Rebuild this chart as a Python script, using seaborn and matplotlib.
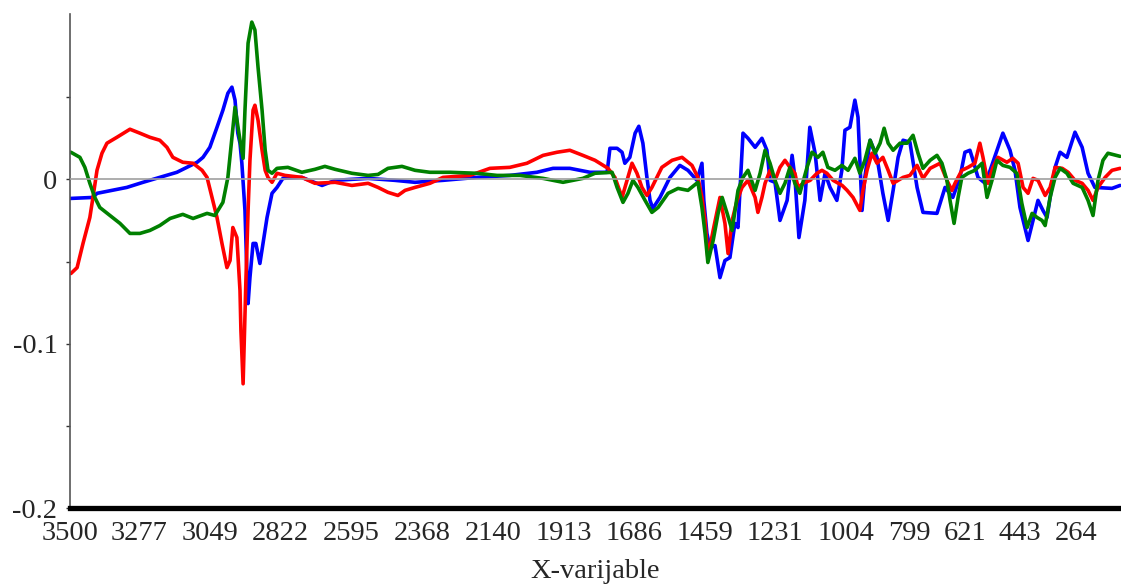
import matplotlib
matplotlib.use("Agg")
import matplotlib.pyplot as plt
import numpy as np
import pandas as pd
import seaborn as sns

# wavenumber (x) and loading values, one series per colour
blue_x = [3497, 3426, 3413, 3317, 3265, 3211, 3156, 3124, 3091, 3072, 3050, 3027, 3008, 2992,
          2979, 2969, 2960, 2953, 2947, 2937, 2931, 2927, 2921, 2911, 2902, 2889, 2879, 2866,
          2850, 2834, 2815, 2754, 2689, 2647, 2541, 2455, 2390, 2300, 2191, 2085, 1998, 1946,
          1892, 1827, 1772, 1763, 1740, 1724, 1715, 1699, 1682, 1670, 1657, 1644, 1634, 1625,
          1602, 1570, 1538, 1512, 1483, 1467, 1461, 1451, 1441, 1425, 1409, 1393, 1377, 1361,
          1351, 1335, 1319, 1296, 1274, 1258, 1248, 1232, 1216, 1193, 1177, 1168, 1155, 1136,
          1120, 1103, 1087, 1071, 1055, 1033, 1017, 1007, 991, 975, 965, 952, 943, 926, 904,
          885, 868, 852, 836, 820, 798, 775, 756, 711, 685, 660, 637, 621, 605, 595, 579, 556,
          540, 518, 499, 476, 460, 444, 428, 418, 402, 386, 370, 357, 347, 331, 315, 293, 267,
          244, 225, 203, 148, 122]
blue_y = [-0.0116, -0.0110, -0.0085, -0.0049, -0.0018, 0.0012, 0.0043, 0.0073, 0.0104, 0.0134,
          0.0195, 0.0317, 0.0421, 0.0524, 0.0561, 0.0482, 0.0281, 0.0220, 0.0098, -0.0189,
          -0.0555, -0.0756, -0.0598, -0.0390, -0.0390, -0.0512, -0.0390, -0.0232, -0.0085,
          -0.0049, 0.0006, 0.0012, -0.0037, -0.0006, 0.0006, -0.0006, -0.0018, -0.0006, 0.0012,
          0.0024, 0.0043, 0.0067, 0.0067, 0.0043, 0.0043, 0.0189, 0.0189, 0.0165, 0.0098,
          0.0134, 0.0281, 0.0323, 0.0220, 0.0012, -0.0128, -0.0177, -0.0110, 0.0012, 0.0085,
          0.0055, -0.0006, 0.0098, -0.0128, -0.0329, -0.0415, -0.0403, -0.0598, -0.0494,
          -0.0476, -0.0268, -0.0293, 0.0281, 0.0250, 0.0195, 0.0250, 0.0177, -0.0006, -0.0018,
          -0.0250, -0.0128, 0.0146, 0.0012, -0.0354, -0.0128, 0.0317, 0.0159, -0.0128, 0.0037,
          -0.0049, -0.0128, 0.0055, 0.0299, 0.0317, 0.0482, 0.0378, -0.0189, 0.0012, 0.0238,
          0.0134, -0.0085, -0.0250, -0.0067, 0.0134, 0.0238, 0.0226, -0.0049, -0.0201, -0.0207,
          -0.0049, -0.0110, 0.0012, 0.0165, 0.0177, 0.0116, 0.0012, -0.0024, 0.0055, 0.0177,
          0.0281, 0.0177, 0.0055, -0.0171, -0.0293, -0.0372, -0.0250, -0.0128, -0.0189, -0.0232,
          -0.0110, 0.0073, 0.0165, 0.0134, 0.0287, 0.0195, 0.0037, -0.0049, -0.0055, -0.0037]

red_x = [3497, 3477, 3458, 3436, 3426, 3413, 3397, 3381, 3349, 3307, 3275, 3243, 3211, 3188,
         3169, 3137, 3104, 3075, 3059, 3043, 3027, 3011, 2995, 2985, 2976, 2963, 2953, 2950,
         2943, 2934, 2927, 2921, 2911, 2905, 2895, 2882, 2872, 2863, 2850, 2834, 2808, 2754,
         2712, 2647, 2593, 2541, 2509, 2477, 2445, 2422, 2390, 2342, 2300, 2213, 2149, 2085,
         2030, 1978, 1933, 1892, 1850, 1811, 1769, 1747, 1724, 1708, 1692, 1676, 1660, 1644,
         1628, 1596, 1563, 1531, 1499, 1480, 1467, 1457, 1448, 1431, 1409, 1393, 1383, 1370,
         1354, 1338, 1319, 1296, 1287, 1274, 1264, 1248, 1232, 1216, 1200, 1184, 1168, 1158,
         1142, 1119, 1097, 1081, 1065, 1045, 1016, 1000, 981, 959, 949, 936, 920, 904, 885,
         868, 852, 836, 820, 798, 775, 756, 733, 701, 679, 663, 653, 631, 611, 589, 573, 563,
         547, 531, 515, 486, 467, 450, 434, 418, 402, 386, 363, 347, 331, 308, 289, 267, 244,
         225, 209, 193, 170, 148, 122]
red_y = [-0.0573, -0.0537, -0.0390, -0.0232, -0.0110, 0.0055, 0.0159, 0.0220, 0.0256, 0.0305,
         0.0281, 0.0256, 0.0238, 0.0195, 0.0134, 0.0104, 0.0098, 0.0055, 0.0012, -0.0110,
         -0.0232, -0.0390, -0.0537, -0.0494, -0.0293, -0.0354, -0.0677, -0.0921, -0.1244,
         -0.0616, -0.0189, 0.0116, 0.0421, 0.0451, 0.0360, 0.0177, 0.0055, 0.0012, -0.0018,
         0.0037, 0.0024, 0.0012, -0.0024, -0.0018, -0.0037, -0.0024, -0.0049, -0.0079,
         -0.0098, -0.0067, -0.0049, -0.0024, 0.0012, 0.0024, 0.0067, 0.0073, 0.0098, 0.0146,
         0.0165, 0.0177, 0.0146, 0.0116, 0.0067, 0.0012, -0.0110, -0.0006, 0.0098, 0.0037,
         -0.0049, -0.0098, -0.0049, 0.0073, 0.0116, 0.0134, 0.0085, 0.0012, -0.0110, -0.0250,
         -0.0476, -0.0311, -0.0110, -0.0268, -0.0451, -0.0250, -0.0128, -0.0049, -0.0006,
         -0.0110, -0.0201, -0.0110, -0.0024, 0.0055, -0.0006, 0.0073, 0.0116, 0.0073, 0.0037,
         -0.0049, -0.0024, -0.0006, 0.0037, 0.0055, 0.0037, -0.0006, -0.0037, -0.0067, -0.0110,
         -0.0189, -0.0067, 0.0055, 0.0159, 0.0098, 0.0134, 0.0055, -0.0024, -0.0006, 0.0012,
         0.0024, 0.0085, 0.0006, 0.0067, 0.0098, -0.0006, -0.0067, -0.0024, 0.0055, 0.0073,
         0.0098, 0.0220, 0.0134, -0.0024, 0.0073, 0.0134, 0.0104, 0.0128, 0.0098, -0.0049,
         -0.0085, 0.0006, -0.0006, -0.0098, -0.0049, 0.0073, 0.0067, 0.0043, -0.0006, -0.0024,
         -0.0067, -0.0128, -0.0049, 0.0012, 0.0055, 0.0067]

green_x = [3497, 3468, 3452, 3436, 3420, 3404, 3371, 3339, 3307, 3275, 3243, 3211, 3178, 3137,
           3104, 3059, 3034, 3008, 2992, 2979, 2969, 2953, 2943, 2937, 2927, 2915, 2905, 2895,
           2882, 2872, 2863, 2850, 2834, 2799, 2754, 2712, 2680, 2647, 2593, 2541, 2509, 2477,
           2432, 2390, 2342, 2277, 2191, 2126, 2052, 1978, 1914, 1850, 1811, 1756, 1740, 1721,
           1705, 1689, 1673, 1650, 1628, 1608, 1576, 1544, 1512, 1480, 1467, 1457, 1448, 1431,
           1415, 1402, 1386, 1370, 1351, 1335, 1319, 1296, 1280, 1264, 1248, 1232, 1216, 1200,
           1184, 1168, 1152, 1129, 1113, 1094, 1078, 1062, 1039, 1017, 997, 975, 959, 943, 926,
           910, 894, 881, 868, 852, 830, 807, 788, 772, 756, 733, 711, 695, 679, 669, 656, 643,
           631, 611, 589, 566, 550, 534, 518, 499, 476, 454, 438, 421, 405, 389, 373, 363, 347,
           331, 315, 293, 273, 244, 225, 209, 193, 177, 161, 122]
green_y = [0.0165, 0.0134, 0.0073, -0.0024, -0.0110, -0.0171, -0.0220, -0.0268, -0.0329,
           -0.0329, -0.0311, -0.0281, -0.0238, -0.0213, -0.0238, -0.0207, -0.0220, -0.0140,
           0.0012, 0.0256, 0.0439, 0.0238, 0.0128, 0.0421, 0.0829, 0.0957, 0.0909, 0.0683,
           0.0421, 0.0177, 0.0055, 0.0037, 0.0067, 0.0073, 0.0043, 0.0061, 0.0079, 0.0061,
           0.0037, 0.0024, 0.0030, 0.0067, 0.0079, 0.0055, 0.0043, 0.0043, 0.0037, 0.0024,
           0.0024, 0.0006, -0.0018, 0.0006, 0.0037, 0.0043, -0.0049, -0.0140, -0.0085, -0.0006,
           -0.0049, -0.0128, -0.0201, -0.0171, -0.0085, -0.0055, -0.0067, -0.0018, -0.0171,
           -0.0329, -0.0506, -0.0372, -0.0207, -0.0110, -0.0207, -0.0311, -0.0067, 0.0012,
           0.0055, -0.0067, 0.0037, 0.0177, 0.0098, -0.0006, -0.0085, -0.0024, 0.0073, -0.0024,
           -0.0085, 0.0073, 0.0165, 0.0134, 0.0165, 0.0073, 0.0055, 0.0085, 0.0055, 0.0128,
           0.0037, 0.0116, 0.0238, 0.0159, 0.0220, 0.0311, 0.0220, 0.0177, 0.0220, 0.0220,
           0.0268, 0.0159, 0.0067, 0.0116, 0.0146, 0.0098, -0.0006, -0.0128, -0.0268, -0.0110,
           0.0012, 0.0037, 0.0055, 0.0098, -0.0110, -0.0006, 0.0116, 0.0085, 0.0073, 0.0037,
           -0.0146, -0.0293, -0.0207, -0.0232, -0.0250, -0.0281, -0.0110, 0.0012, 0.0067,
           0.0037, -0.0024, -0.0049, -0.0128, -0.0220, -0.0006, 0.0116, 0.0159, 0.0140]

x_ticks = [3500, 3277, 3049, 2822, 2595, 2368, 2140, 1913, 1686, 1459, 1231, 1004, 799, 621, 443, 264]
y_ticks = [-0.2, -0.1, 0.0]
y_tick_labels = ["-0.2", "-0.1", "0"]

df = pd.concat([
    pd.DataFrame({"x": blue_x, "y": blue_y, "series": "blue"}),
    pd.DataFrame({"x": red_x, "y": red_y, "series": "red"}),
    pd.DataFrame({"x": green_x, "y": green_y, "series": "green"}),
], ignore_index=True)

sns.set_style("white")
plt.rcParams["font.family"] = ["Liberation Serif", "DejaVu Serif"]
plt.rcParams["axes.unicode_minus"] = False

fig = plt.figure(figsize=(11.21, 5.85), dpi=100)
ax = fig.add_axes([0.0624, 0.1316, 0.9376, 0.8444])

sns.lineplot(data=df, x="x", y="y", hue="series", estimator=None, sort=False,
             palette={"blue": "#0000ff", "red": "#ff0000", "green": "#008000"},
             hue_order=["blue", "red", "green"], lw=2.6, legend=False, ax=ax)
ax.axhline(0, color="#a0a0a0", lw=1.2, zorder=5)

ax.set_xlim(3500, 119)
ax.set_ylim(-0.2, 0.1006)
ax.set_xticks(x_ticks)
ax.set_xticklabels([str(t) for t in x_ticks])
ax.set_yticks(y_ticks)
ax.set_yticklabels(y_tick_labels)
ax.set_yticks([-0.15, -0.05, 0.05], minor=True)
ax.tick_params(axis="x", length=0, pad=9, labelsize=20.5)
ax.tick_params(axis="y", which="both", direction="out", length=3, width=1,
               color="#333333", pad=6, labelsize=20.5, left=True)

ax.set_xlabel("X-varijable", fontsize=20.5, labelpad=10)
ax.set_ylabel("")

for side in ("top", "right"):
    ax.spines[side].set_visible(False)
ax.spines["left"].set_color("#555555")
ax.spines["left"].set_linewidth(1.2)
ax.spines["bottom"].set_color("black")
ax.spines["bottom"].set_linewidth(3.8)

fig.savefig("out.png", dpi=100)
plt.close(fig)
